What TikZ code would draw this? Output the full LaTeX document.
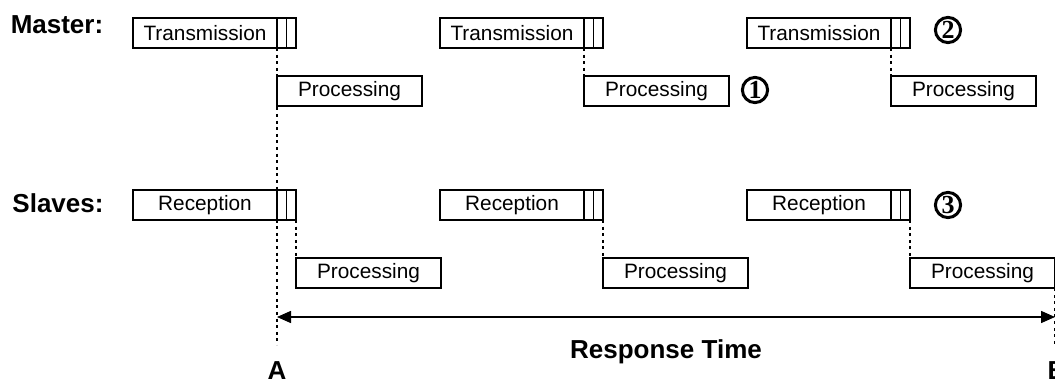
\documentclass[tikz,border=0pt]{standalone}
\usepackage{fontspec}
\setmainfont{Liberation Sans}
\newfontfamily\markfont{Liberation Serif}
\usetikzlibrary{positioning,arrows.meta,calc}
\tikzset{
framebox/.style={
  draw,
  line width=0.8pt,
  outer sep=0pt,
  inner sep=0pt,
  minimum width=72pt,
  minimum height=15pt,
  font=\fontsize{10.4}{12}\selectfont
  },
barbox/.style={draw, line width=0.8pt, outer sep=0pt, inner sep=0pt,
  minimum width=4.75pt, minimum height=15pt},
procbox/.style={framebox, minimum width=72.5pt},
waitline/.style={line width=1pt, dash pattern=on 1.5pt off 1.8pt},
rowlabel/.style={font=\fontsize{13}{15}\selectfont\bfseries},
marker/.style={circle, draw, line width=1.5pt, inner sep=0pt, minimum size=12.6pt,
  font=\markfont\fontsize{13}{13}\selectfont\bfseries}
}

\begin{document}
\begin{tikzpicture}[x=0.5pt, y=-0.5pt]
  \useasboundingbox (0,0) rectangle (1055,379);

  \node[rowlabel] (master) at (57,25) {Master:};
  \node[rowlabel] (slaves) at (58,203) {Slaves:};

  % master frames
  \node[framebox] (tx1) at (205,33) {Transmission};
  \node[barbox,anchor=west] (tx1a) at (tx1.east) {};
  \node[barbox,anchor=west] (tx1b) at (tx1a.east) {};
  \node[procbox,below=14pt of tx1a.south west,anchor=north west] (mp1) {Processing};

  \node[framebox] (tx2) at (512,33) {Transmission};
  \node[barbox,anchor=west] (tx2a) at (tx2.east) {};
  \node[barbox,anchor=west] (tx2b) at (tx2a.east) {};
  \node[procbox,below=14pt of tx2a.south west,anchor=north west] (mp2) {Processing};

  \node[framebox] (tx3) at (819,33) {Transmission};
  \node[barbox,anchor=west] (tx3a) at (tx3.east) {};
  \node[barbox,anchor=west] (tx3b) at (tx3a.east) {};
  \node[procbox,below=14pt of tx3a.south west,anchor=north west] (mp3) {Processing};

  % slave frames
  \node[framebox] (rx1) at (205,205) {Reception};
  \node[barbox,anchor=west] (rx1a) at (rx1.east) {};
  \node[barbox,anchor=west] (rx1b) at (rx1a.east) {};
  \node[procbox,below=19pt of rx1b.south east,anchor=north west] (sp1) {Processing};

  \node[framebox] (rx2) at (512,205) {Reception};
  \node[barbox,anchor=west] (rx2a) at (rx2.east) {};
  \node[barbox,anchor=west] (rx2b) at (rx2a.east) {};
  \node[procbox,below=19pt of rx2b.south east,anchor=north west] (sp2) {Processing};

  \node[framebox] (rx3) at (819,205) {Reception};
  \node[barbox,anchor=west] (rx3a) at (rx3.east) {};
  \node[barbox,anchor=west] (rx3b) at (rx3a.east) {};
  \node[procbox,below=19pt of rx3b.south east,anchor=north west] (sp3) {Processing};

  \node[marker] (one) at (755,90) {1};
  \node[marker] (two) at (948,30) {2};
  \node[marker] (three) at (948,205) {3};

  % wait lines
  \coordinate (Aend) at (tx1a.south west |- 0,345);
  \coordinate (Bend) at (sp3.south east |- 0,345);
  \draw[waitline] (tx1a.south west) -- (Aend);
  \draw[waitline] (sp3.south east) -- (Bend);
  \draw[waitline] (tx2a.south west) -- (mp2.north west);
  \draw[waitline] (tx3a.south west) -- (mp3.north west);
  \draw[waitline] (rx1b.south east) -- (sp1.north west);
  \draw[waitline] (rx2b.south east) -- (sp2.north west);
  \draw[waitline] (rx3b.south east) -- (sp3.north west);

  % response time
  \coordinate (rtA) at (Aend |- 0,317);
  \coordinate (rtB) at (Bend |- 0,317);
  \draw[{Triangle[length=7pt,width=6pt]}-{Triangle[length=7pt,width=6pt]}, line width=0.75pt] (rtA) -- (rtB);
  \node[rowlabel] (rt) at (666,352) {Response Time};
  \node[rowlabel] (labA) at (277,371) {A};
  \node[rowlabel] (labB) at (1057,371) {B};
\end{tikzpicture}
\end{document}
